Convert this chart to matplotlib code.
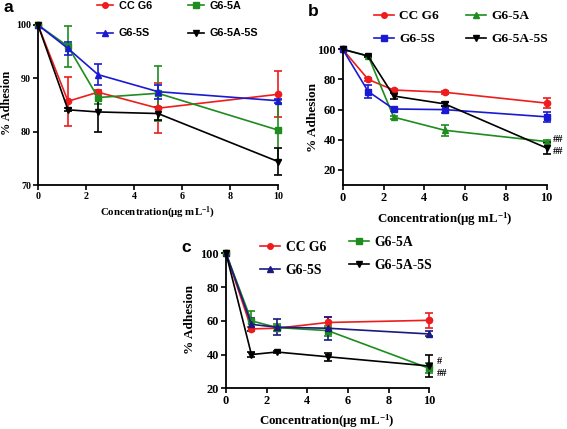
import matplotlib
matplotlib.use("Agg")
import matplotlib.pyplot as plt
from matplotlib.lines import Line2D

plt.rcParams['mathtext.fontset'] = 'custom'
plt.rcParams['mathtext.rm'] = 'Liberation Serif:bold'
plt.rcParams['mathtext.bf'] = 'Liberation Serif:bold'
plt.rcParams['mathtext.it'] = 'Liberation Serif:bold'

W, H = 567, 429
SERIF = 'Liberation Serif'
SANS = 'Liberation Sans'

# ---- data ----
conc = [0, 1.25, 2.5, 5, 10]
series_names = ['CC G6', 'G6-5A', 'G6-5S', 'G6-5A-5S']

a_ccg6 = [100, 85.7, 87.4, 84.4, 87.0]
a_ccg6_err = [0, 4.6, 0.4, 4.7, 4.3]
a_5a = [100, 96.0, 86.4, 87.2, 80.3]
a_5a_err = [0, 3.9, 1.2, 5.2, 5.6]
a_5s = [100, 95.6, 90.7, 87.5, 85.8]
a_5s_err = [0, 1.2, 1.9, 1.3, 0.4]
a_5a5s = [100, 84.1, 83.7, 83.4, 74.4]
a_5a5s_err = [0, 0.3, 3.8, 1.2, 2.6]

b_ccg6 = [100, 80.0, 73.0, 71.5, 64.3]
b_ccg6_err = [0, 1.0, 1.0, 1.0, 3.5]
b_5a = [100, 95.6, 55.0, 46.3, 38.8]
b_5a_err = [0, 0.5, 1.0, 3.7, 1.0]
b_5s = [100, 72.0, 60.4, 60.0, 55.2]
b_5s_err = [0, 4.0, 1.0, 2.5, 3.5]
b_5a5s = [100, 95.5, 69.0, 63.8, 34.5]
b_5a5s_err = [0, 0.5, 2.2, 1.3, 4.2]

c_ccg6 = [100, 55.2, 55.6, 59.0, 60.3]
c_ccg6_err = [0, 1.0, 1.5, 3.5, 4.3]
c_5a = [100, 60.0, 56.0, 54.2, 31.8]
c_5a_err = [0, 6.0, 2.0, 3.0, 3.0]
c_5s = [100, 57.9, 56.2, 55.6, 52.2]
c_5s_err = [0, 3.9, 4.8, 6.7, 1.5]
c_5a5s = [100, 40.0, 41.5, 38.7, 33.2]
c_5a5s_err = [0, 1.6, 0.5, 2.5, 6.5]

RED = '#ee1c1c'
GREEN = '#1e8c1e'
BLUE = '#1a1ad2'
NAVY = '#1a1a80'
BLACK = '#000000'

fig = plt.figure(figsize=(W / 100, H / 100), dpi=100)


def rect(x0, y_bottom, x1, y_top):
    return [x0 / W, 1 - y_bottom / H, (x1 - x0) / W, (y_bottom - y_top) / H]


def fx(x):
    return x / W


def fy(y):
    return 1 - y / H


def panel(ax, data, ylim, yticks, tick_fs):
    for vals, err, color, marker in data:
        ax.errorbar(conc, vals, yerr=err, color=color, marker=marker,
                    markersize=4.5, lw=1.2, elinewidth=1.2, capsize=2.8,
                    capthick=1.2, clip_on=False)
    ax.set_xlim(0, 10)
    ax.set_ylim(*ylim)
    ax.set_xticks([0, 2, 4, 6, 8, 10])
    ax.set_yticks(yticks)
    for s in ['top', 'right']:
        ax.spines[s].set_visible(False)
    for s in ['left', 'bottom']:
        ax.spines[s].set_linewidth(1.3)
    ax.tick_params(direction='out', length=3.5, width=1.2, pad=1.5)
    for lab in ax.get_xticklabels() + ax.get_yticklabels():
        lab.set_fontfamily(SERIF)
        lab.set_fontweight('bold')
        lab.set_fontsize(tick_fs)


def legend_cols(handles_cols, anchors, fontsize, family, hl, htp, ls):
    for handles, labels, (x, y) in zip(*handles_cols, anchors):
        fig.legend(handles, labels, loc='upper left',
                   bbox_to_anchor=(fx(x), fy(y)), frameon=False,
                   borderpad=0, borderaxespad=0, handlelength=hl,
                   handletextpad=htp, labelspacing=ls,
                   prop={'family': family, 'weight': 'bold', 'size': fontsize})


def h(color, marker):
    return Line2D([], [], color=color, marker=marker, markersize=4, lw=1.2)


xlabel = 'Concentration(\u03bcg mL$^{-1}$)'

# ---- panel a ----
axa = fig.add_axes(rect(38, 185, 278, 25))
panel(axa, [(a_ccg6, a_ccg6_err, RED, 'o'),
            (a_5a, a_5a_err, GREEN, 's'),
            (a_5s, a_5s_err, BLUE, '^'),
            (a_5a5s, a_5a5s_err, BLACK, 'v')],
      (70, 100), [70, 80, 90, 100], 7.2)
fig.text(fx(7), fy(103), '% Adhesion', rotation=90, ha='center', va='center',
         family=SERIF, weight='bold', fontsize=8.8)
fig.text(fx(158), fy(213), xlabel, ha='center', va='center',
         family=SERIF, weight='bold', fontsize=7.8)
fig.text(fx(3), fy(8), 'a', ha='left', va='center', family=SANS,
         weight='bold', fontsize=12.5)
legend_cols(([[h(RED, 'o'), h(BLUE, '^')], [h(GREEN, 's'), h(BLACK, 'v')]],
             [[series_names[0], series_names[2]], [series_names[1], series_names[3]]]),
            [(97, 1), (188, 1)], 7.8, SANS, 1.5, 0.5, 1.6)

# ---- panel b ----
axb = fig.add_axes(rect(342.7, 185, 546.7, 49.3))
panel(axb, [(b_ccg6, b_ccg6_err, RED, 'o'),
            (b_5a, b_5a_err, GREEN, '^'),
            (b_5s, b_5s_err, BLUE, 's'),
            (b_5a5s, b_5a5s_err, BLACK, 'v')],
      (10, 100), [20, 40, 60, 80, 100], 8.8)
fig.text(fx(313), fy(117), '% Adhesion', rotation=90, ha='center', va='center',
         family=SERIF, weight='bold', fontsize=9.5)
fig.text(fx(445), fy(219), xlabel, ha='center', va='center',
         family=SERIF, weight='bold', fontsize=9.3)
fig.text(fx(308), fy(11), 'b', ha='left', va='center', family=SANS,
         weight='bold', fontsize=12.5)
legend_cols(([[h(RED, 'o'), h(BLUE, 's')], [h(GREEN, '^'), h(BLACK, 'v')]],
             [[series_names[0], series_names[2]], [series_names[1], series_names[3]]]),
            [(374, 10), (466, 10)], 9.6, SERIF, 1.5, 0.4, 0.8)
fig.text(fx(553), fy(139), '##', ha='left', va='center', family=SERIF,
         weight='bold', fontsize=7.5)
fig.text(fx(553), fy(151), '##', ha='left', va='center', family=SERIF,
         weight='bold', fontsize=7.5)

# ---- panel c ----
axc = fig.add_axes(rect(226, 388.3, 429.3, 253.3))
panel(axc, [(c_ccg6, c_ccg6_err, RED, 'o'),
            (c_5a, c_5a_err, GREEN, 's'),
            (c_5s, c_5s_err, NAVY, '^'),
            (c_5a5s, c_5a5s_err, BLACK, 'v')],
      (20, 100), [20, 40, 60, 80, 100], 8.8)
fig.text(fx(190), fy(320), '% Adhesion', rotation=90, ha='center', va='center',
         family=SERIF, weight='bold', fontsize=9.5)
fig.text(fx(327), fy(421), xlabel, ha='center', va='center',
         family=SERIF, weight='bold', fontsize=9.3)
fig.text(fx(181), fy(248), 'c', ha='left', va='center', family=SANS,
         weight='bold', fontsize=12.5)
legend_cols(([[h(RED, 'o'), h(NAVY, '^')], [h(GREEN, 's'), h(BLACK, 'v')]],
             [[series_names[0], series_names[2]], [series_names[1], series_names[3]]]),
            [(260, 241), (349, 236)], 9.8, SERIF, 1.5, 0.4, 0.75)
fig.text(fx(437), fy(362), '#', ha='left', va='center', family=SERIF,
         weight='bold', fontsize=7.5)
fig.text(fx(437), fy(374), '##', ha='left', va='center', family=SERIF,
         weight='bold', fontsize=7.5)

fig.savefig('out.png', dpi=100)
